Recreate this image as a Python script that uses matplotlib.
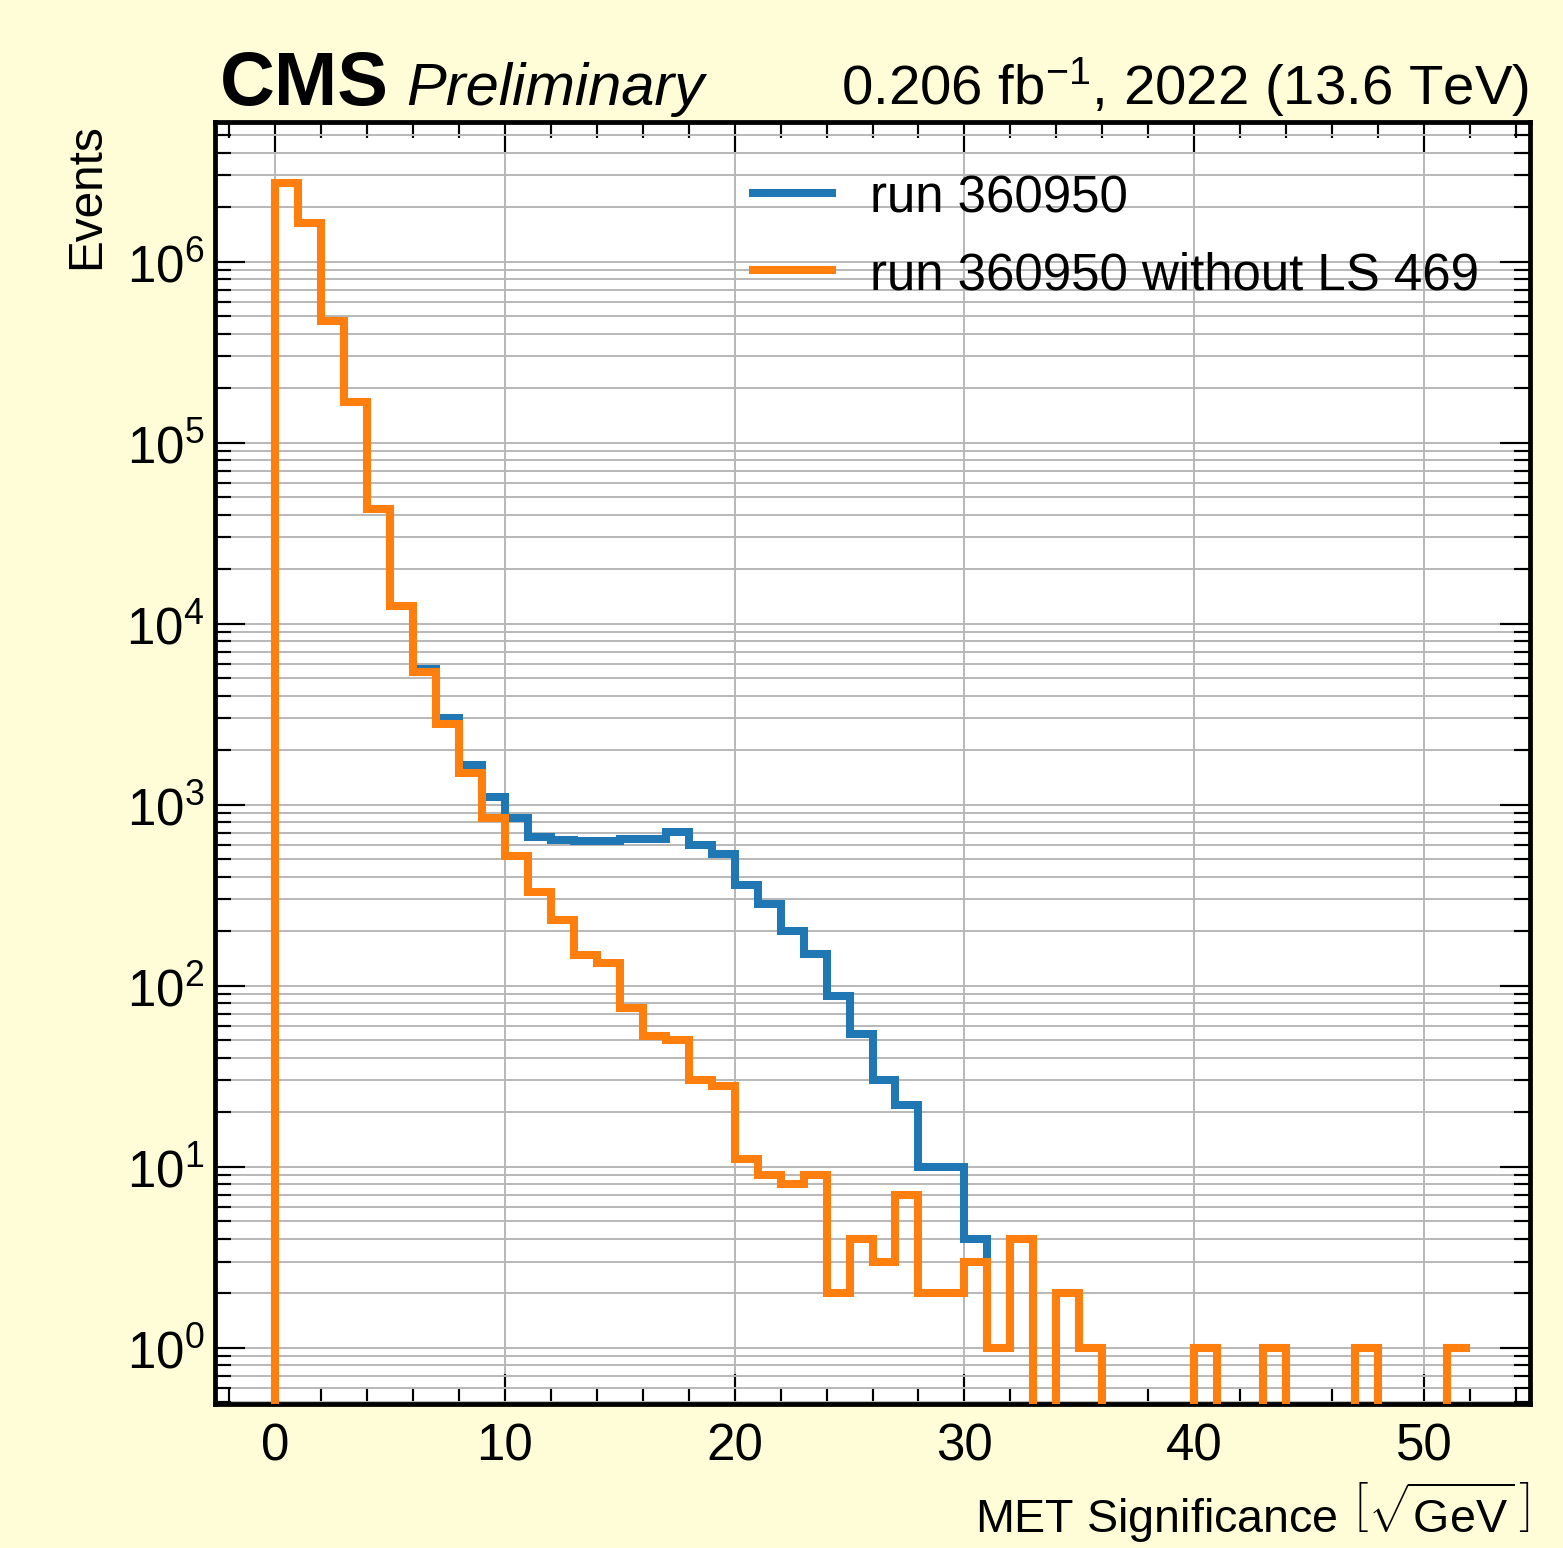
import numpy as np
import matplotlib
matplotlib.use("Agg")
import matplotlib.pyplot as plt
from matplotlib.ticker import MultipleLocator, LogLocator, NullFormatter
from matplotlib.lines import Line2D

plt.rcParams['font.family'] = ['Liberation Sans', 'DejaVu Sans']
plt.rcParams['mathtext.fontset'] = 'custom'
plt.rcParams['mathtext.rm'] = 'Liberation Sans'
plt.rcParams['mathtext.it'] = 'Liberation Sans:italic'
plt.rcParams['mathtext.bf'] = 'Liberation Sans:bold'

# histogram data, bins of width 1 from 0 to 52
bin_edges = np.arange(0, 53)

run_all = [2.7e6, 1.64e6, 4.7e5, 1.68e5, 4.3e4, 1.26e4, 5.6e3, 3.0e3, 1.66e3, 1.1e3,
           840, 665, 635, 630, 630, 645, 650, 710, 600, 535,
           360, 283, 200, 150, 88, 54, 30, 22, 10, 10,
           4, 1, 4, 0, 2, 1, 0, 0, 0, 0,
           1, 0, 0, 1, 0, 0, 0, 1, 0, 0,
           0, 1]

run_no_ls = [2.7e6, 1.64e6, 4.7e5, 1.68e5, 4.3e4, 1.26e4, 5.4e3, 2.8e3, 1.5e3, 840,
             523, 330, 230, 148, 133, 75, 53, 50, 30, 28,
             11, 9, 8, 9, 2, 4, 3, 7, 2, 2,
             3, 1, 4, 0, 2, 1, 0, 0, 0, 0,
             1, 0, 0, 1, 0, 0, 0, 1, 0, 0,
             0, 1]

labels = ['run 360950', 'run 360950 without LS 469']
colors = ['#1f77b4', '#ff7f0e']
y_decades = [10.0 ** k for k in range(0, 7)]

fig = plt.figure(figsize=(10.0, 1549 / 156.3), dpi=156.3, facecolor='#fffdd8')
ax = fig.add_axes([215 / 1563, 1 - 1405 / 1549, (1530 - 215) / 1563, (1405 - 123) / 1549])
ax.set_facecolor('white')

# prepend an empty bin so the step rises from the bottom at x=0
edges = np.concatenate([[bin_edges[0] - 1], bin_edges])
lw = 3.7
for vals, c in zip([run_all, run_no_ls], colors):
    ax.stairs(np.concatenate([[0], vals]), edges, baseline=None, color=c, lw=lw, zorder=3)

ax.set_yscale('log')
ax.set_xlim(-2.6, 54.6)
ax.set_ylim(0.49, 5.9e6)

ax.xaxis.set_major_locator(MultipleLocator(10))
ax.xaxis.set_minor_locator(MultipleLocator(2))
ax.set_yticks(y_decades)
ax.yaxis.set_minor_locator(LogLocator(base=10, subs=np.arange(2, 10), numticks=100))
ax.yaxis.set_minor_formatter(NullFormatter())

ax.tick_params(which='both', direction='in', top=True, right=True)
ax.tick_params(which='major', length=14, width=1.0, labelsize=23.5)
ax.tick_params(which='minor', length=7.5, width=1.0)
ax.tick_params(axis='x', which='major', pad=8)
ax.tick_params(axis='y', which='major', pad=5)
for sp in ax.spines.values():
    sp.set_linewidth(2.2)

ax.grid(True, which='major', axis='x', color='#b8b8b8', lw=0.9)
ax.grid(True, which='both', axis='y', color='#b8b8b8', lw=0.9)
ax.set_axisbelow(True)

ax.set_xlabel(r'MET Significance $\left[\sqrt{\mathrm{GeV}}\,\right]$', loc='right', fontsize=21.5, labelpad=4)
ax.set_ylabel('Events', loc='top', fontsize=22, labelpad=8)

handles = [Line2D([], [], color=c, lw=lw) for c in colors]
ax.legend(handles, labels, loc='upper right', frameon=False, fontsize=23.5,
          handlelength=1.55, handletextpad=0.75, labelspacing=0.55, borderaxespad=0.6)

ax.text(0.004, 1.014, 'CMS', transform=ax.transAxes, fontsize=35, fontweight='bold',
        ha='left', va='baseline')
ax.text(0.145, 1.014, 'Preliminary', transform=ax.transAxes, fontsize=27.5, style='italic',
        ha='left', va='baseline')
ax.text(0.999, 1.014, r'0.206 fb$^{-1}$, 2022 (13.6 TeV)', transform=ax.transAxes,
        fontsize=26, ha='right', va='baseline')

fig.savefig('out.png', dpi=156.3, facecolor=fig.get_facecolor())
